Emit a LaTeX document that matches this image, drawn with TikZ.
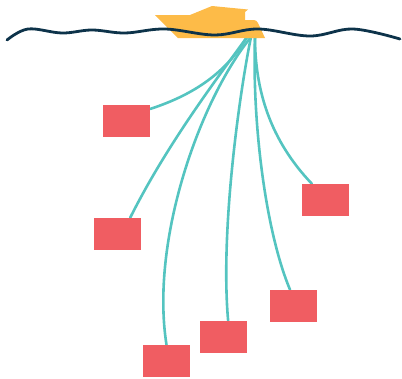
\documentclass[tikz,border=0pt]{standalone}
\usetikzlibrary{calc}
\definecolor{sea}{RGB}{13,51,74}
\definecolor{hull}{RGB}{253,187,72}
\definecolor{pot}{RGB}{240,93,98}
\definecolor{rope}{RGB}{84,196,192}
\tikzset{
  potbox/.style={fill=pot, draw=none, inner sep=0pt, minimum width=47pt, minimum height=32pt},
  ropeline/.style={draw=rope, line width=2.6pt, line cap=round},
  waveline/.style={draw=sea, line width=2.8pt, line cap=round},
}
\begin{document}
\begin{tikzpicture}[x=1pt, y=-1pt]
\useasboundingbox (0,0) rectangle (402,378);

% rope anchors under the boat
\coordinate (sL) at (247,37);
\coordinate (sM) at (251,37);
\coordinate (sR) at (255,37);

% pots on the sea floor
\node[potbox] (b1) at (126.5,121) {};
\node[potbox] (b2) at (117.5,234) {};
\node[potbox] (b3) at (166.5,361) {};
\node[potbox] (b4) at (223.5,337) {};
\node[potbox] (b5) at (293.5,306) {};
\node[potbox] (b6) at (325.5,200) {};

% ropes from the boat down to each pot
\begin{scope}[on background layer/.try]
\draw[ropeline] (sL) .. controls (225,75) and (190,96) .. (b1.27);
\draw[ropeline] (sL) .. controls (222,72) and (168,142) .. (b2.52);
\draw[ropeline] (sM) .. controls (200,100) and (150,240) .. (b3.north);
\draw[ropeline] (sM) .. controls (240,90) and (220,230) .. (b4.74);
\draw[ropeline] (sR) .. controls (252,120) and (265,230) .. (b5.102);
\draw[ropeline] (sR) .. controls (255,90) and (270,140) .. (b6.130);
\end{scope}
% redraw pots on top of the rope ends
\foreach \b in {b1,b2,b3,b4,b5,b6}{
  \fill[pot] (\b.south west) rectangle (\b.north east);
}

% boat
\fill[hull] (155,15) -- (190,15) -- (212,6) -- (248,9.5) -- (245,12) -- (245,20)
  -- (252,20) .. controls (256,20) and (257,21) .. (258,23) -- (265,38) -- (178,38) -- cycle;

% sea surface
\draw[waveline] plot[smooth, tension=0.6] coordinates {
  (7,40) (28,29) (62,33) (92,30) (125,33) (165,29) (215,35) (258,29) (310,36) (353,29) (400,39)};
\end{tikzpicture}
\end{document}
